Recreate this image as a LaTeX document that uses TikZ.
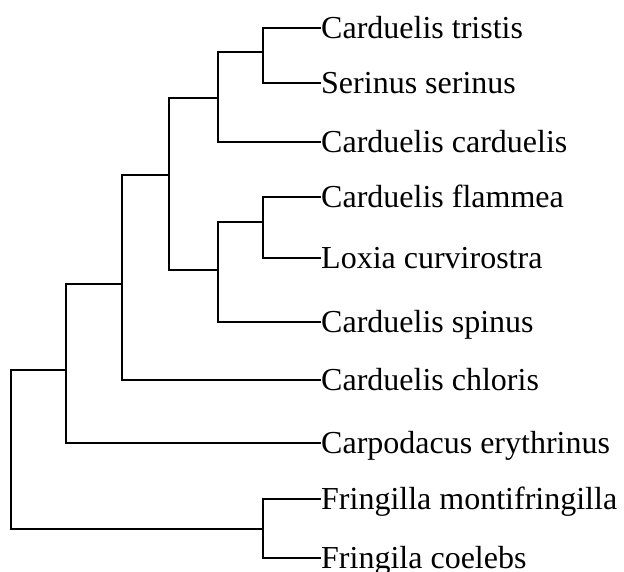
\documentclass[tikz,border=0pt]{standalone}
\usepackage{fontspec}
\setmainfont{Liberation Serif}
\usetikzlibrary{positioning}

\begin{document}
\begin{tikzpicture}[
x=1pt, y=-1pt,
taxon/.style={anchor=west, inner sep=0pt, text height=21pt, text depth=0pt, font=\fontsize{32}{38}\selectfont},
branch/.style={line width=2pt}
]
\useasboundingbox (0,0) rectangle (624,572);
% leaves
\node[taxon] (tristis) at (321,28) {Carduelis tristis};
\node[taxon] (serinus) at (321,83) {Serinus serinus};
\node[taxon] (carduelis) at (321,142) {Carduelis carduelis};
\node[taxon] (flammea) at (321,197) {Carduelis flammea};
\node[taxon] (loxia) at (321,258) {Loxia curvirostra};
\node[taxon] (spinus) at (321,322) {Carduelis spinus};
\node[taxon] (chloris) at (321,380) {Carduelis chloris};
\node[taxon] (carpodacus) at (321,443) {Carpodacus erythrinus};
\node[taxon] (montifringilla) at (321,499) {Fringilla montifringilla};
\node[taxon] (coelebs) at (321,558) {Fringila coelebs};
% internal nodes
\coordinate (tristisserinus) at (263,52);
\coordinate (cardgroup) at (218,98);
\coordinate (flammealoxia) at (263,222);
\coordinate (spinusgroup) at (218,270);
\coordinate (carduelinae) at (169,175);
\coordinate (chlorisgroup) at (122,284);
\coordinate (carpodacusgroup) at (66,370);
\coordinate (fringilla) at (263,529);
\coordinate (root) at (11,450);
% branches
\draw[branch] (tristisserinus) |- (tristis.west);
\draw[branch] (tristisserinus) |- (serinus.west);
\draw[branch] (cardgroup) |- (tristisserinus);
\draw[branch] (cardgroup) |- (carduelis.west);
\draw[branch] (flammealoxia) |- (flammea.west);
\draw[branch] (flammealoxia) |- (loxia.west);
\draw[branch] (spinusgroup) |- (flammealoxia);
\draw[branch] (spinusgroup) |- (spinus.west);
\draw[branch] (carduelinae) |- (cardgroup);
\draw[branch] (carduelinae) |- (spinusgroup);
\draw[branch] (chlorisgroup) |- (carduelinae);
\draw[branch] (chlorisgroup) |- (chloris.west);
\draw[branch] (carpodacusgroup) |- (chlorisgroup);
\draw[branch] (carpodacusgroup) |- (carpodacus.west);
\draw[branch] (fringilla) |- (montifringilla.west);
\draw[branch] (fringilla) |- (coelebs.west);
\draw[branch] (root) |- (carpodacusgroup);
\draw[branch] (root) |- (fringilla);
\end{tikzpicture}
\end{document}
